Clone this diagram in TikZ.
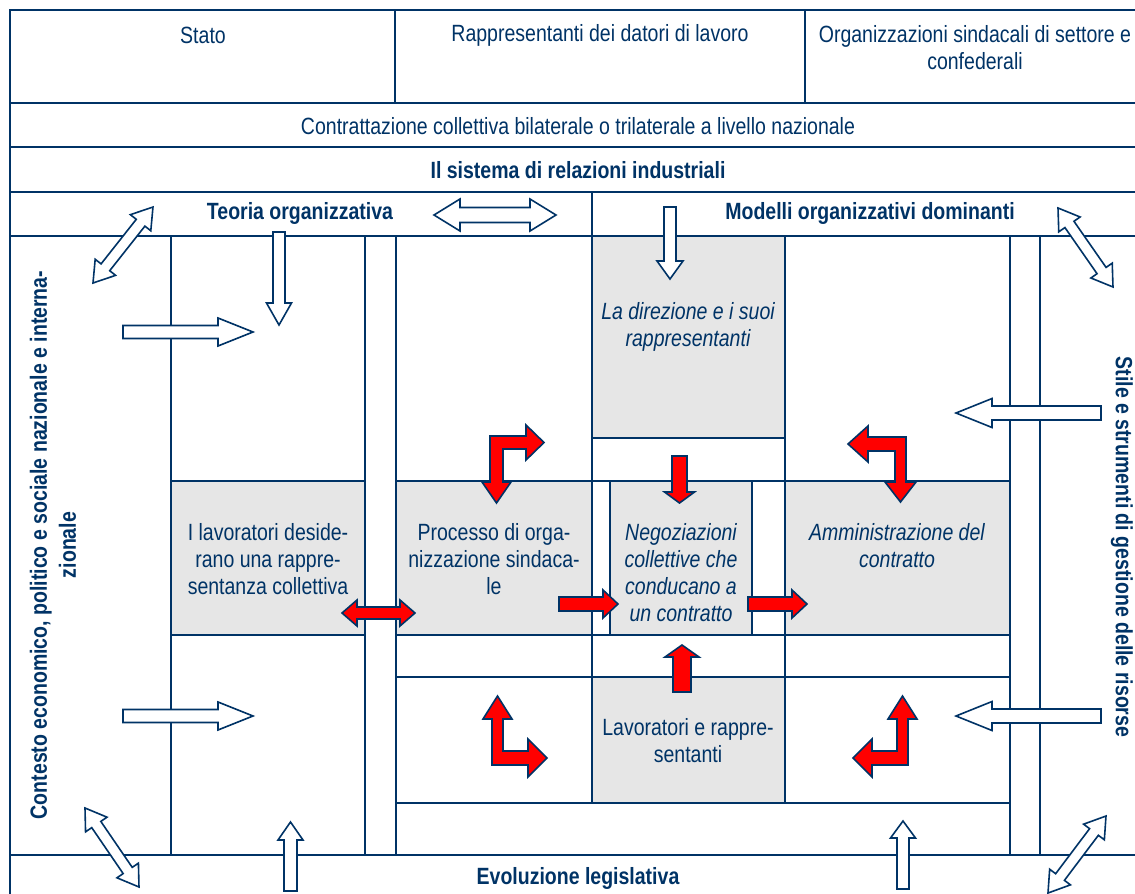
\documentclass[tikz,border=0pt]{standalone}
\usepackage{fontspec}
\setmainfont{Liberation Sans}[FakeStretch=0.83]
\definecolor{navy}{RGB}{0,51,102}
\definecolor{boxgray}{RGB}{230,230,230}
\definecolor{redarr}{RGB}{255,0,0}

% single block arrow: style, tail x, tail y, tip x, tip y, shaft half width, head half width, head length
\newcommand\blockarr[8]{%
  \pgfmathsetmacro\arrang{atan2(#3-#5,#4-#2)}%
  \pgfmathsetmacro\arrlen{veclen(#4-#2,#5-#3)}%
  \begin{scope}[shift={(#2,#3)},rotate=\arrang]
    \draw[#1] (0,-#6) -- (\arrlen-#8,-#6) -- (\arrlen-#8,-#7) -- (\arrlen,0)
      -- (\arrlen-#8,#7) -- (\arrlen-#8,#6) -- (0,#6) -- cycle;
  \end{scope}}
% double block arrow
\newcommand\dblarr[8]{%
  \pgfmathsetmacro\arrang{atan2(#3-#5,#4-#2)}%
  \pgfmathsetmacro\arrlen{veclen(#4-#2,#5-#3)}%
  \begin{scope}[shift={(#2,#3)},rotate=\arrang]
    \draw[#1] (0,0) -- (#8,-#7) -- (#8,-#6) -- (\arrlen-#8,-#6) -- (\arrlen-#8,-#7) -- (\arrlen,0)
      -- (\arrlen-#8,#7) -- (\arrlen-#8,#6) -- (#8,#6) -- (#8,#7) -- cycle;
  \end{scope}}

\begin{document}
\begin{tikzpicture}[x=1pt,y=-1pt,
  grid/.style={draw=navy,line width=2.2pt,line cap=rect},
  warr/.style={fill=white,draw=navy,line width=1.6pt,line join=miter},
  rarr/.style={fill=redarr,draw=navy,line width=1.6pt,line join=miter},
  txt/.style={font=\fontsize{23.5}{27}\selectfont,text=navy,inner sep=0pt},
  txtb/.style={txt,font=\fontsize{23.5}{29}\selectfont\bfseries},
  txti/.style={txt,font=\fontsize{23.5}{27}\selectfont\itshape}]
\useasboundingbox (0,0) rectangle (1135,894);
\fill[white] (0,0) rectangle (1135,894);

% gray boxes
\fill[boxgray] (171,481) rectangle (365,635);
\fill[boxgray] (396,481) rectangle (592,635);
\fill[boxgray] (610,481) rectangle (752,635);
\fill[boxgray] (785,481) rectangle (1010,635);
\fill[boxgray] (592,236) rectangle (785,438);
\fill[boxgray] (592,677) rectangle (785,803);

% grid lines
\foreach \yy in {10,103,147,192,236,855} \draw[grid] (10,\yy) -- (1135,\yy);
\draw[grid] (10,10) -- (10,894);
\draw[grid] (395,10) -- (395,103);
\draw[grid] (805,10) -- (805,103);
\draw[grid] (592,192) -- (592,803);
\foreach \xx in {171,365,396,1010,1040} \draw[grid] (\xx,236) -- (\xx,855);
\draw[grid] (785,236) -- (785,803);
\draw[grid] (610,481) -- (610,635);
\draw[grid] (752,481) -- (752,635);
\draw[grid] (592,438) -- (785,438);
\draw[grid] (171,481) -- (365,481);
\draw[grid] (396,481) -- (1010,481);
\draw[grid] (171,635) -- (365,635);
\draw[grid] (396,635) -- (1010,635);
\draw[grid] (396,677) -- (1010,677);
\draw[grid] (396,803) -- (1010,803);

% white arrows
\dblarr{warr}{93}{283}{153}{207}{5.5}{13}{20}
\dblarr{warr}{434}{215}{556}{215}{7.5}{16}{26}
\blockarr{warr}{279}{232}{279}{325}{6}{12.5}{22}
\blockarr{warr}{123}{332}{253}{332}{6.5}{14}{35}
\blockarr{warr}{670}{207}{670}{279}{6}{13}{18}
\dblarr{warr}{1058}{208}{1113}{287}{5.5}{13}{20}
\blockarr{warr}{1101}{413}{956}{413}{7}{14.5}{36}
\blockarr{warr}{123}{716}{253}{716}{6.5}{14}{35}
\blockarr{warr}{1101}{716}{956}{716}{7}{14.5}{36}
\dblarr{warr}{85}{808}{139}{887}{5.5}{13}{20}
\blockarr{warr}{290.5}{891}{290.5}{822}{6.5}{12.5}{18}
\blockarr{warr}{903}{889}{903}{821}{6}{12.5}{17}
\dblarr{warr}{1048}{893}{1106}{816}{5.5}{13}{20}

% red arrows
\draw[rarr] (490,436) -- (526,436) -- (526,425) -- (544,442.5) -- (526,460) -- (526,449)
  -- (503,449) -- (503,482) -- (511,482) -- (496.5,503) -- (482,482) -- (490,482) -- cycle;
\draw[rarr] (906,437) -- (868,437) -- (868,426) -- (848,444) -- (868,462) -- (868,451)
  -- (895,451) -- (895,482) -- (885,482) -- (900.5,502) -- (916,482) -- (906,482) -- cycle;
\draw[rarr] (492,765) -- (492,719) -- (483,719) -- (497.5,696) -- (512,719) -- (503,719)
  -- (503,751) -- (528,751) -- (528,739) -- (547,758) -- (528,777) -- (528,765) -- cycle;
\draw[rarr] (908,765) -- (908,719) -- (917,719) -- (902.5,696) -- (888,719) -- (897,719)
  -- (897,751) -- (872,751) -- (872,739) -- (853,758) -- (872,777) -- (872,765) -- cycle;
\blockarr{rarr}{679.5}{456}{679.5}{503}{7.5}{15}{11}
\blockarr{rarr}{682}{692}{682}{645}{9}{17}{12}
\dblarr{rarr}{342}{613}{415}{613}{6}{13}{15}
\blockarr{rarr}{559}{604}{618}{604}{7}{14}{15}
\blockarr{rarr}{748}{604}{807}{604}{7}{14}{15}

% texts
\node[txt] (stato) at (203,35) {Stato};
\node[txt] (datori) at (600,35) {Rappresentanti dei datori di lavoro};
\node[txt,align=center] (sindacati) at (975,48) {Organizzazioni sindacali di settore e\\confederali};
\node[txt] (contratt) at (578,126) {Contrattazione collettiva bilaterale o trilaterale a livello nazionale};
\node[txtb] (sistema) at (578,170) {Il sistema di relazioni industriali};
\node[txtb] (teoria) at (300,213) {Teoria organizzativa};
\node[txtb] (modelli) at (870,213) {Modelli organizzativi dominanti};
\node[txtb] (evol) at (578,878) {Evoluzione legislativa};
\node[txtb,rotate=90,align=center] (contesto) at (53,545) {Contesto economico, politico e sociale nazionale e interna-\\zionale};
\node[txtb,rotate=-90] (stile) at (1122,547) {Stile e strumenti di gestione delle risorse};
\node[txt,align=center] (lavdes) at (268,559) {I lavoratori deside-\\rano una rappre-\\sentanza collettiva};
\node[txt,align=center] (processo) at (494,559) {Processo di orga-\\nizzazione sindaca-\\le};
\node[txti,align=center] (negoz) at (681,572.5) {Negoziazioni\\collettive che\\conducano a\\un contratto};
\node[txti,align=center] (ammin) at (897,545.5) {Amministrazione del\\contratto};
\node[txti,align=center] (direz) at (688,327) {La direzione e i suoi\\rappresentanti};
\node[txt,align=center] (lavrap) at (688,741) {Lavoratori e rappre-\\sentanti};
\end{tikzpicture}
\end{document}
